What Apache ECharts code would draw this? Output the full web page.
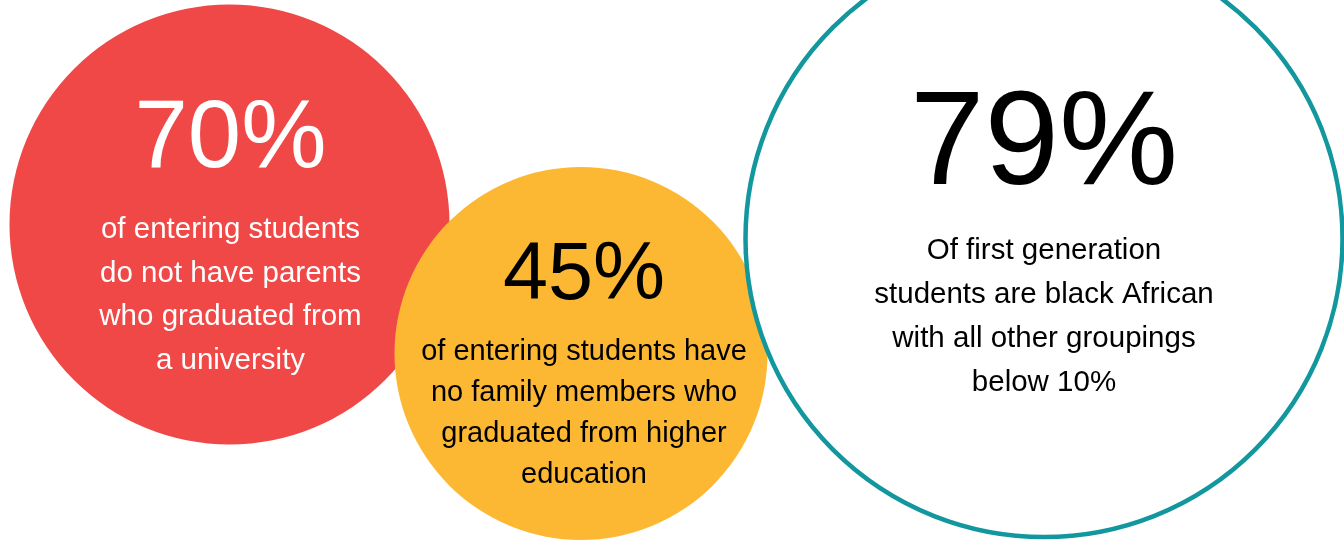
<!DOCTYPE html>
<html>
<head>
<meta charset="utf-8">
<script src="https://cdn.jsdelivr.net/npm/echarts@6/dist/echarts.min.js"></script>
<style>
  html, body { margin: 0; padding: 0; background: #fff; }
  #chart { width: 1344px; height: 541px; }
</style>
</head>
<body>
<div id="chart"></div>
<script>
// values shown in the three bubbles
const percents = [70, 45, 79];
const captions = [
  ['of entering students', 'do not have parents', 'who graduated from', 'a university'],
  ['of entering students have', 'no family members who', 'graduated from higher', 'education'],
  ['Of first generation', 'students are black African', 'with all other groupings', 'below 10%']
];

// layout of the bubbles (pixels of the 1344x541 canvas)
const centers = [[229.5, 224.5], [581, 353.5], [1044, 238.5]];
const radii = [220, 186.5, 298.5];
const fills = ['#f04747', '#fcb832', '#ffffff'];
const borders = [null, null, '#11979d'];
const textColors = ['#ffffff', '#000000', '#000000'];
const pctSizes = [96, 81, 134];
const pctLineHeights = [136, 108, 162];
const capSizes = [29.5, 29, 29.5];
const capLineHeights = [43.5, 41.3, 44];
const textOffsets = [[1, 3], [3, 6], [0, -3]];

const font = "'Liberation Sans', Arial, sans-serif";

const chart = echarts.init(document.getElementById('chart'));

const data = percents.map((p, i) => ({
  value: [centers[i][0], centers[i][1], p],
  symbolSize: radii[i] * 2,
  itemStyle: {
    color: fills[i],
    opacity: 1,
    borderColor: borders[i] || fills[i],
    borderWidth: borders[i] ? 4.5 : 0
  },
  label: {
    show: true,
    position: 'inside',
    offset: textOffsets[i],
    formatter: () => '{pct|' + p + '%}\n' + captions[i].map(c => '{cap|' + c + '}').join('\n'),
    rich: {
      pct: {
        fontFamily: font,
        fontSize: pctSizes[i],
        lineHeight: pctLineHeights[i],
        color: textColors[i],
        align: 'center'
      },
      cap: {
        fontFamily: font,
        fontSize: capSizes[i],
        lineHeight: capLineHeights[i],
        color: textColors[i],
        align: 'center'
      }
    }
  }
}));

chart.setOption({
  animation: false,
  grid: { left: 0, right: 0, top: 0, bottom: 0 },
  xAxis: { type: 'value', min: 0, max: 1344, show: false },
  yAxis: { type: 'value', min: 0, max: 541, inverse: true, show: false },
  series: [{
    type: 'scatter',
    symbol: 'circle',
    clip: false,
    data: data,
    emphasis: { disabled: true }
  }]
});
</script>
</body>
</html>
